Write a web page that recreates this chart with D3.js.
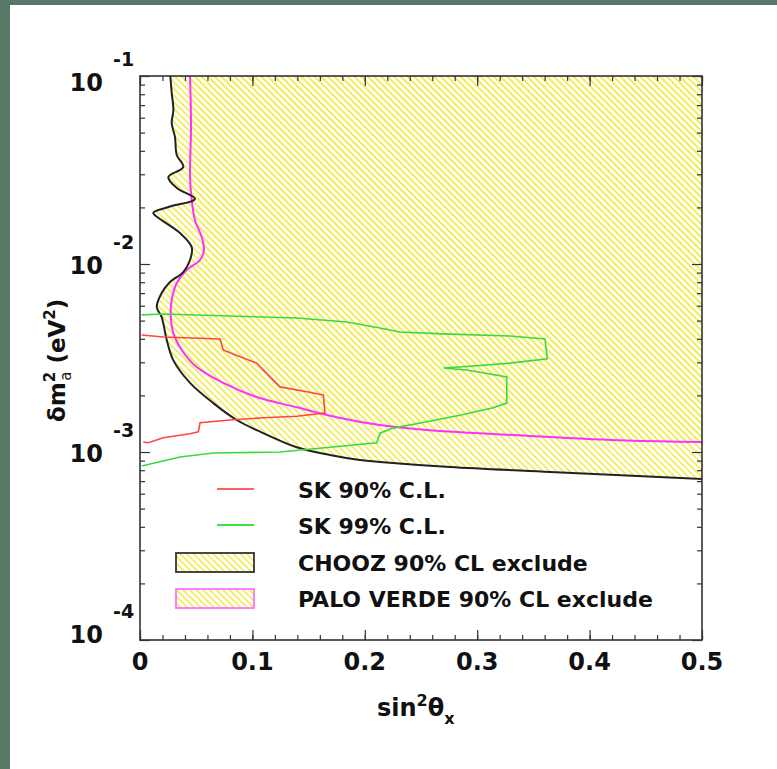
<!DOCTYPE html>
<html><head><meta charset="utf-8">
<script src="https://cdn.jsdelivr.net/npm/d3@7"></script>
<style>
body{margin:0;background:#fff;}
svg{display:block;}
text{font-family:"DejaVu Sans",sans-serif;font-weight:bold;fill:#111;}
</style>
</head><body>
<svg id="c" width="777" height="769"></svg>
<script>
// ---------- data ----------
const xTicks = [0, 0.1, 0.2, 0.3, 0.4, 0.5];
const xTickLabels = ["0", "0.1", "0.2", "0.3", "0.4", "0.5"];
const yTicks = [1e-1, 1e-2, 1e-3, 1e-4];
const yTickExponents = ["-1", "-2", "-3", "-4"];

const choozX = [0.027,0.0282,0.0297,0.0282,0.0311,0.0327,0.0385,0.0252,0.0327,0.0489,0.0252,0.0118,0.0163,0.0356,0.0460,0.0445,0.0385,0.0267,0.0193,0.0149,0.0193,0.0238,0.0296,0.0445,0.0652,0.0860,0.1097,0.1394,0.1690,0.1957,0.2135,0.2758,0.3648,0.5];
const choozY = [0.1,0.0813,0.0659,0.0562,0.0474,0.0380,0.0328,0.0290,0.0254,0.0222,0.0201,0.0187,0.0176,0.0146,0.0123,0.0105,0.00906,0.00802,0.00701,0.00591,0.00522,0.00394,0.00308,0.00233,0.00182,0.00148,0.00126,0.00106,0.000964,0.000906,0.000885,0.000832,0.000783,0.000718];

const pvX = [0.0445,0.0454,0.0445,0.0460,0.0489,0.0549,0.0569,0.0534,0.0415,0.0327,0.0282,0.0273,0.0296,0.0371,0.0504,0.0741,0.1038,0.1394,0.1750,0.2135,0.2551,0.3440,0.4330,0.5];
const pvY = [0.1,0.0536,0.0290,0.0219,0.0171,0.0139,0.0119,0.0105,0.00929,0.00793,0.00644,0.00549,0.00430,0.00349,0.00283,0.00233,0.00196,0.00173,0.00153,0.00139,0.00131,0.00122,0.00115,0.00113];

const sk90X = [0.0015,0.0207,0.0712,0.0741,0.0801,0.0919,0.1038,0.1157,0.1246,0.1483,0.1631,0.1646,0.1394,0.1097,0.0801,0.0534,0.0519,0.0445,0.0207,0.0074,0.0029];
const sk90Y = [0.00419,0.00409,0.00399,0.00349,0.00337,0.00316,0.00297,0.00251,0.00222,0.00209,0.00201,0.00161,0.00155,0.00152,0.00148,0.00143,0.00128,0.00125,0.00119,0.00112,0.00113];

const sk99X = [0.0015,0.0207,0.0801,0.1394,0.1839,0.2135,0.2313,0.2696,0.3292,0.3603,0.3624,0.3292,0.2936,0.2699,0.2907,0.3263,0.3263,0.3141,0.2847,0.2551,0.2251,0.2135,0.2106,0.1690,0.1246,0.0652,0.0356,0.0015];
const sk99Y = [0.00536,0.00542,0.00529,0.00516,0.00491,0.00457,0.00435,0.00425,0.00414,0.00399,0.00313,0.00297,0.00286,0.00280,0.00273,0.00251,0.00182,0.00172,0.00157,0.00145,0.00134,0.00126,0.00112,0.00106,0.00100,0.000988,0.000940,0.000843];

const legendLabels = ["SK 90% C.L.", "SK 99% C.L.", "CHOOZ 90% CL exclude", "PALO VERDE 90% CL exclude"];

// ---------- layout ----------
const W = 777, H = 769;
const L = 140, R = 702, T = 76, B = 640;
const svg = d3.select("#c");

svg.append("rect").attr("width", W).attr("height", H).attr("fill", "#587868");
svg.append("rect").attr("x", 10).attr("y", 5).attr("width", W - 10).attr("height", H - 5).attr("fill", "#ffffff");

const x = d3.scaleLinear().domain([0, 0.5]).range([L, R]);
const y = d3.scaleLog().domain([1e-4, 1e-1]).range([B, T]);

const defs = svg.append("defs");
const pat = defs.append("pattern").attr("id", "hatch").attr("patternUnits", "userSpaceOnUse")
  .attr("width", 4.7).attr("height", 4.7).attr("patternTransform", "rotate(45)");
pat.append("rect").attr("x", 0).attr("y", 0).attr("width", 4.7).attr("height", 1.9).attr("fill", "#f3ed66");
defs.append("clipPath").attr("id", "plotclip").append("rect")
  .attr("x", L).attr("y", T).attr("width", R - L).attr("height", B - T);

const zip = (xs, ys) => xs.map((v, i) => [v, ys[i]]);
const chooz = zip(choozX, choozY);
const pv = zip(pvX, pvY);
const sk90 = zip(sk90X, sk90Y);
const sk99 = zip(sk99X, sk99Y);

const line = d3.line().x(d => x(d[0])).y(d => y(d[1]));
const smooth = d3.line().x(d => x(d[0])).y(d => y(d[1])).curve(d3.curveCatmullRom.alpha(0.5));

const plot = svg.append("g").attr("clip-path", "url(#plotclip)");
// hatched exclusion regions
plot.append("path").attr("d", smooth(chooz) + `L${x(0.5)},${y(0.1)}Z`).attr("fill", "url(#hatch)");
plot.append("path").attr("d", smooth(pv) + `L${x(0.5)},${y(0.1)}Z`).attr("fill", "url(#hatch)");

plot.append("path").attr("d", smooth(pv)).attr("fill", "none").attr("stroke", "#ff30ff").attr("stroke-width", 2);
plot.append("path").attr("d", smooth(chooz)).attr("fill", "none").attr("stroke", "#222").attr("stroke-width", 2);
plot.append("path").attr("d", line(sk90)).attr("fill", "none").attr("stroke", "#ff4646").attr("stroke-width", 1.6);
plot.append("path").attr("d", line(sk99)).attr("fill", "none").attr("stroke", "#3ada3a").attr("stroke-width", 1.6);

// frame
svg.append("rect").attr("x", L).attr("y", T).attr("width", R - L).attr("height", B - T)
  .attr("fill", "none").attr("stroke", "#333").attr("stroke-width", 1.6);

// ticks via d3 axes (inward)
const xMinor = d3.range(0, 0.5001, 0.02);
const yMinor = [];
[1e-4, 1e-3, 1e-2].forEach(dec => { for (let k = 2; k <= 9; k++) yMinor.push(dec * k); });

function axisG(axis, tx, ty) {
  const g = svg.append("g").attr("transform", `translate(${tx},${ty})`).call(axis);
  g.select(".domain").remove();
  g.selectAll("line").attr("stroke", "#333").attr("stroke-width", 1.2);
  g.selectAll("text").remove();
  return g;
}
axisG(d3.axisBottom(x).tickValues(xMinor).tickSize(-5).tickFormat(""), 0, B);
axisG(d3.axisBottom(x).tickValues(xTicks).tickSize(-10).tickFormat(""), 0, B);
axisG(d3.axisTop(x).tickValues(xMinor).tickSize(-5).tickFormat(""), 0, T);
axisG(d3.axisTop(x).tickValues(xTicks).tickSize(-10).tickFormat(""), 0, T);
axisG(d3.axisLeft(y).tickValues(yMinor).tickSize(-5).tickFormat(""), L, 0);
axisG(d3.axisLeft(y).tickValues(yTicks).tickSize(-10).tickFormat(""), L, 0);
axisG(d3.axisRight(y).tickValues(yMinor).tickSize(-5).tickFormat(""), R, 0);
axisG(d3.axisRight(y).tickValues(yTicks).tickSize(-10).tickFormat(""), R, 0);

// x tick labels
svg.selectAll(".xl").data(xTicks).join("text")
  .attr("x", d => x(d)).attr("y", B + 30).attr("text-anchor", "middle")
  .style("font-size", "24px").text((d, i) => xTickLabels[i]);

// y tick labels 10^n
yTicks.forEach((v, i) => {
  const by = Math.max(T + 15, Math.min(B + 3, y(v) + 10));
  svg.append("text").attr("x", 103).attr("y", by).attr("text-anchor", "end")
    .style("font-size", "24px").text("10");
  svg.append("text").attr("x", 113).attr("y", by - 25)
    .style("font-size", "19px").text(yTickExponents[i]);
});

// axis titles
const xt = svg.append("text").attr("x", 377).attr("y", 716).style("font-size", "24px");
xt.append("tspan").text("sin");
xt.append("tspan").attr("dy", -10).style("font-size", "16px").text("2");
xt.append("tspan").attr("dy", 10).text("θ");
xt.append("tspan").attr("dy", 8).style("font-size", "16px").text("x");

const yt = svg.append("text").attr("transform", "translate(65,422) rotate(-90)").style("font-size", "23px");
yt.append("tspan").text("δm");
yt.append("tspan").attr("dy", -10).style("font-size", "15px").text("2");
yt.append("tspan").attr("dx", -9).attr("dy", 16).style("font-size", "15px").style("font-weight", "normal").text("a");
yt.append("tspan").attr("dy", -6).text(" (eV");
yt.append("tspan").attr("dy", -10).style("font-size", "15px").text("2");
yt.append("tspan").attr("dy", 10).text(")");

// legend
const lg = svg.append("g");
lg.append("line").attr("x1", 217).attr("x2", 254).attr("y1", 489).attr("y2", 489).attr("stroke", "#ff6060").attr("stroke-width", 2);
lg.append("line").attr("x1", 217).attr("x2", 254).attr("y1", 525).attr("y2", 525).attr("stroke", "#40e040").attr("stroke-width", 2);
lg.append("rect").attr("x", 176).attr("y", 553).attr("width", 78).attr("height", 19)
  .attr("fill", "url(#hatch)").attr("stroke", "#333").attr("stroke-width", 1.8);
lg.append("rect").attr("x", 176).attr("y", 589).attr("width", 78).attr("height", 19)
  .attr("fill", "url(#hatch)").attr("stroke", "#ff70ff").attr("stroke-width", 1.8);
const lgY = [498, 534, 571, 607];
legendLabels.forEach((t, i) => {
  lg.append("text").attr("x", 298).attr("y", lgY[i]).style("font-size", "22px").text(t);
});
</script>
</body></html>
